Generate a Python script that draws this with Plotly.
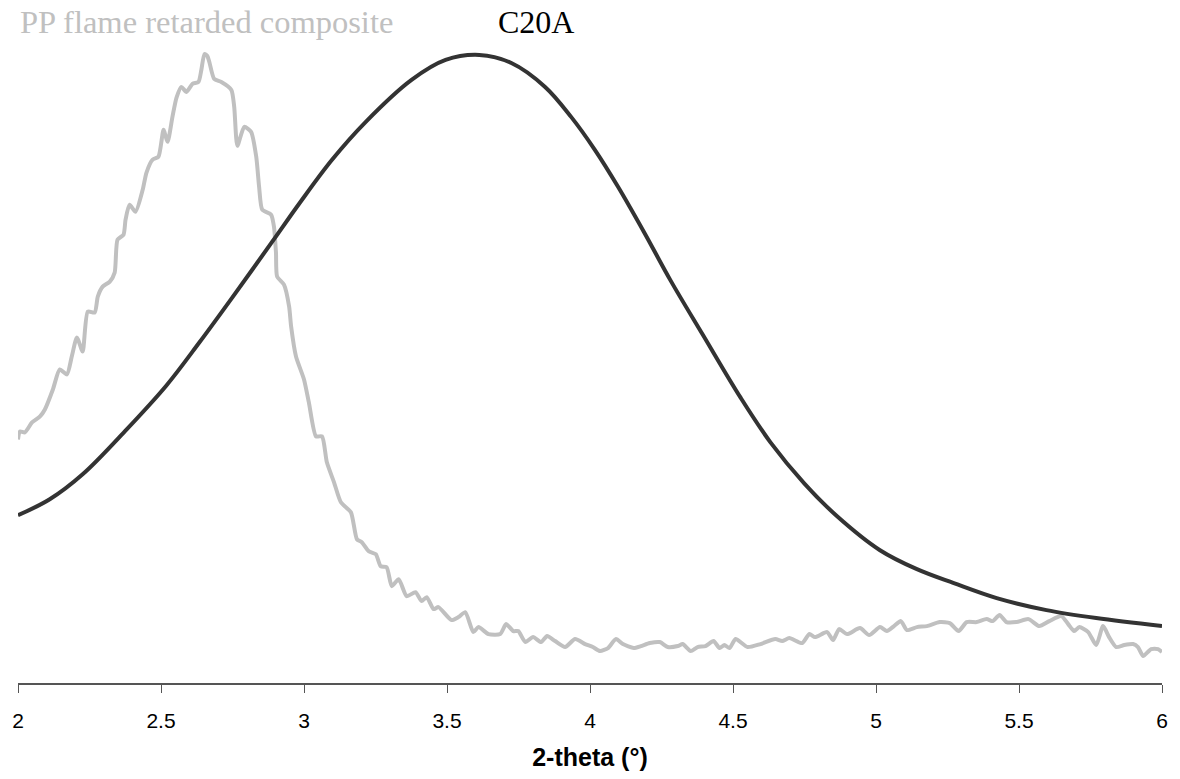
import plotly.graph_objects as go

# PP flame retarded composite (gray XRD trace), 2-theta in degrees, intensity in a.u.
pp_theta = [2.000, 2.007, 2.024, 2.049, 2.077, 2.094, 2.122, 2.146, 2.171, 2.188, 2.206, 2.226, 2.244, 2.268,
            2.279, 2.296, 2.321, 2.338, 2.348, 2.369, 2.376, 2.390, 2.411, 2.436, 2.449, 2.470, 2.491, 2.509,
            2.523, 2.540, 2.554, 2.571, 2.589, 2.610, 2.631, 2.641, 2.652, 2.662, 2.669, 2.686, 2.711, 2.746,
            2.756, 2.767, 2.791, 2.815, 2.833, 2.843, 2.854, 2.885, 2.895, 2.902, 2.906, 2.930, 2.948, 2.955,
            2.972, 3.000, 3.017, 3.042, 3.063, 3.080, 3.105, 3.129, 3.164, 3.185, 3.202, 3.226, 3.251, 3.268,
            3.289, 3.307, 3.331, 3.359, 3.390, 3.411, 3.429, 3.453, 3.470, 3.516, 3.540, 3.564, 3.592, 3.610,
            3.645, 3.686, 3.707, 3.732, 3.749, 3.774, 3.801, 3.829, 3.850, 3.878, 3.913, 3.948, 3.983, 4.010,
            4.035, 4.063, 4.091, 4.115, 4.153, 4.178, 4.209, 4.244, 4.272, 4.307, 4.324, 4.352, 4.376, 4.404,
            4.432, 4.453, 4.470, 4.488, 4.509, 4.551, 4.596, 4.648, 4.672, 4.697, 4.742, 4.767, 4.787, 4.829,
            4.850, 4.871, 4.899, 4.944, 4.976, 5.014, 5.038, 5.063, 5.087, 5.108, 5.143, 5.178, 5.223, 5.258,
            5.289, 5.317, 5.352, 5.387, 5.408, 5.432, 5.456, 5.491, 5.533, 5.571, 5.606, 5.648, 5.672, 5.693,
            5.711, 5.742, 5.770, 5.794, 5.815, 5.840, 5.868, 5.899, 5.916, 5.934, 5.962, 5.986, 6.000]
pp_intensity = [244, 252, 251, 261, 267, 274, 294, 314, 309, 327, 346, 332, 372, 371,
                387, 397, 402, 411, 444, 449, 464, 479, 472, 494, 511, 524, 527, 554,
                542, 567, 586, 597, 592, 600, 602, 614, 630, 628, 622, 605, 602, 594,
                577, 538, 557, 552, 527, 497, 474, 469, 457, 431, 407, 399, 377, 357,
                327, 304, 281, 247, 247, 221, 201, 181, 171, 144, 141, 132, 129, 117,
                116, 97, 104, 87, 91, 82, 86, 74, 76, 63, 66, 71, 51, 56,
                49, 49, 59, 52, 52, 41, 46, 41, 47, 42, 36, 44, 39, 36,
                32, 35, 44, 39, 35, 37, 40, 41, 36, 37, 39, 32, 36, 37,
                42, 35, 38, 35, 44, 36, 39, 44, 42, 45, 40, 49, 46, 51,
                43, 54, 49, 55, 48, 56, 52, 57, 62, 53, 56, 57, 61, 60,
                52, 61, 61, 64, 62, 68, 61, 61, 64, 57, 62, 67, 59, 52,
                56, 51, 38, 57, 46, 36, 38, 39, 36, 27, 34, 34, 31]

# C20A (black trace)
c20a_theta = [2.000, 2.111, 2.226, 2.380, 2.519, 2.634, 2.749, 2.889, 2.983, 3.098, 3.216, 3.376, 3.495,
              3.613, 3.725, 3.843, 3.934, 4.017, 4.098, 4.192, 4.282, 4.394, 4.526, 4.631, 4.749, 4.864,
              5.014, 5.143, 5.272, 5.422, 5.596, 5.770, 6.000]
c20a_intensity = [168, 184, 209, 254, 298, 341, 386, 442, 480, 524, 562, 604, 624,
                  629, 621, 597, 567, 534, 497, 450, 403, 349, 286, 241, 200, 167,
                  133, 114, 100, 85, 73, 65, 57]

x_ticks = [2, 2.5, 3, 3.5, 4, 4.5, 5, 5.5, 6]
x_tick_labels = ["2", "2.5", "3", "3.5", "4", "4.5", "5", "5.5", "6"]

fig = go.Figure()
fig.add_trace(go.Scatter(x=pp_theta, y=pp_intensity, mode="lines",
                         line=dict(color="#c0c0c0", width=4, shape="spline", smoothing=0.6),
                         name="PP flame retarded composite", showlegend=False, hoverinfo="x+y"))
fig.add_trace(go.Scatter(x=c20a_theta, y=c20a_intensity, mode="lines",
                         line=dict(color="#333333", width=4, shape="spline", smoothing=1.0),
                         name="C20A", showlegend=False, hoverinfo="x+y"))

fig.update_layout(
    width=1180, height=779,
    margin=dict(l=18, r=14, t=40, b=95),
    paper_bgcolor="white", plot_bgcolor="white",
    xaxis=dict(range=[2, 6], tickmode="array", tickvals=x_ticks, ticktext=x_tick_labels,
               showline=True, linecolor="#555555", linewidth=1.5,
               ticks="outside", ticklen=8, tickcolor="#555555", tickwidth=1,
               ticklabelstandoff=10,
               showgrid=False, zeroline=False,
               tickfont=dict(family="Liberation Sans, Arial", size=21, color="black"),
               title=dict(text="<b>2-theta (°)</b>", standoff=18,
                          font=dict(family="Liberation Sans, Arial", size=25, color="black"))),
    yaxis=dict(range=[0, 644], visible=False, showgrid=False, zeroline=False),
    annotations=[
        dict(text="PP flame retarded composite", x=2.0, xref="x", y=1.0287, yref="paper",
             xanchor="left", yanchor="middle", showarrow=False,
             font=dict(family="Liberation Serif, Times New Roman", size=32.5, color="#c0c0c0")),
        dict(text="C20A", x=3.812, xref="x", y=1.0287, yref="paper",
             xanchor="center", yanchor="middle", showarrow=False,
             font=dict(family="Liberation Serif, Times New Roman", size=32, color="black")),
    ],
)

fig.write_html(
    "out.html",
    config={"displayModeBar": False},
    post_script="document.body.style.margin='0';document.documentElement.style.overflow='hidden';",
)
